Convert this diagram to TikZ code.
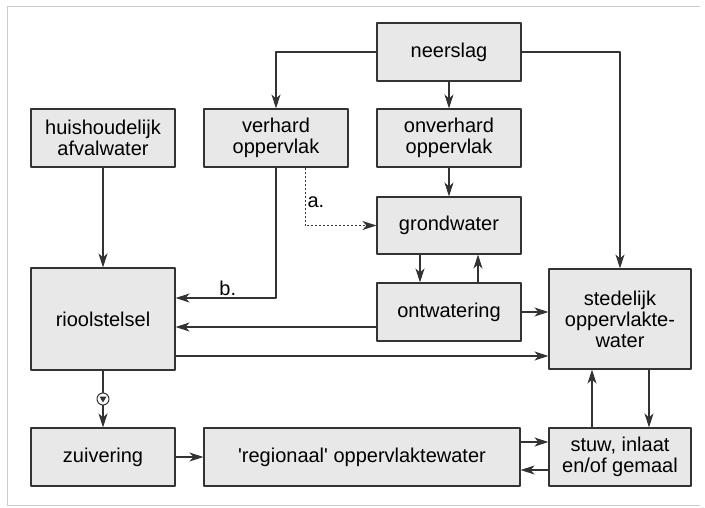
\documentclass[tikz,border=0pt]{standalone}
\usepackage{fontspec}
\setmainfont{Liberation Sans}
\usetikzlibrary{arrows.meta}
\begin{document}
\begin{tikzpicture}[x=1pt,y=-1pt,line join=round,
  blok/.style={draw=black!80,fill=black!9,line width=1.1pt,align=center,inner sep=0pt,
    minimum width=144pt,minimum height=58pt,font=\fontsize{20}{21}\selectfont},
  stroom/.style={draw=black!80,line width=1.1pt,-{Stealth[length=14pt,width=9pt,inset=4pt]}},
  label/.style={font=\fontsize{20}{21}\selectfont,inner sep=2pt},
  pomp/.style={circle,draw=black!80,fill=white,line width=1pt,minimum size=12pt,inner sep=0pt}]
  \useasboundingbox (0,0) rectangle (705,507);
  \draw[black!20,line width=0.8pt] (700,6)--(7,6)--(7,505)--(700,505);
  % blokken
  \node[blok] (neerslag) at (449,52) {neerslag};
  \node[blok] (huis) at (103,138) {huishoudelijk\\afvalwater};
  \node[blok] (verhard) at (276,138) {verhard\\oppervlak};
  \node[blok] (onverhard) at (449,138) {onverhard\\oppervlak};
  \node[blok,minimum height=57pt] (grondwater) at (449,225.5) {grondwater};
  \node[blok,minimum height=102pt] (riool) at (103,319) {rioolstelsel};
  \node[blok] (ontwatering) at (449,312) {ontwatering};
  \node[blok,minimum width=142pt,minimum height=100pt] (stedelijk) at (620,319) {stedelijk\\oppervlakte-\\water};
  \node[blok] (zuivering) at (103,457) {zuivering};
  \node[blok,minimum width=316pt] (regionaal) at (362,457) {\textquotesingle regionaal\textquotesingle{} oppervlaktewater};
  \node[blok,minimum width=142pt] (stuw) at (620,457) {stuw, inlaat\\en/of gemaal};
  % stromen
  \draw[stroom] (neerslag.west) -| (verhard.north);
  \draw[stroom] (neerslag.east) -| (stedelijk.north);
  \draw[stroom] (neerslag) -- (onverhard);
  \draw[stroom] (onverhard) -- (grondwater);
  \draw[stroom] (huis) -- (riool);
  \draw[stroom] ([xshift=-29pt]grondwater.south) -- ([xshift=-29pt]ontwatering.north);
  \draw[stroom] ([xshift=29pt]ontwatering.north) -- ([xshift=29pt]grondwater.south);
  \draw[stroom,line width=1pt,dash pattern=on 2pt off 2pt] ([xshift=29pt]verhard.south) |- node[label,pos=0.3,right]{a.} (grondwater.west);
  \draw[stroom] (verhard.south) |- node[label,pos=0.74,above]{b.} ([yshift=21pt]riool.east);
  \draw[stroom] ([yshift=-15pt]ontwatering.west) -- ([yshift=-15pt]ontwatering.west -| riool.east);
  \draw[stroom] (ontwatering.east) -- (ontwatering.east -| stedelijk.west);
  \draw[stroom] ([yshift=-37pt]riool.east) -- ([yshift=-37pt]riool.east -| stedelijk.west);
  \draw[stroom] (riool) -- node[pomp] (pomp) {} (zuivering);
  \fill[black!80,shift={(pomp)}] (0,3.5) -- (-3.5,-2.5) -- (3.5,-2.5) -- cycle;
  \draw[stroom] (zuivering) -- (regionaal);
  \draw[stroom] ([yshift=15pt]regionaal.east) -- ([yshift=15pt]regionaal.east -| stuw.west);
  \draw[stroom] ([yshift=-13pt]stuw.west) -- ([yshift=-13pt]stuw.west -| regionaal.east);
  \draw[stroom] ([xshift=-28pt]stuw.north) -- ([xshift=-28pt]stedelijk.south);
  \draw[stroom] ([xshift=29pt]stedelijk.south) -- ([xshift=29pt]stuw.north);
\end{tikzpicture}
\end{document}
